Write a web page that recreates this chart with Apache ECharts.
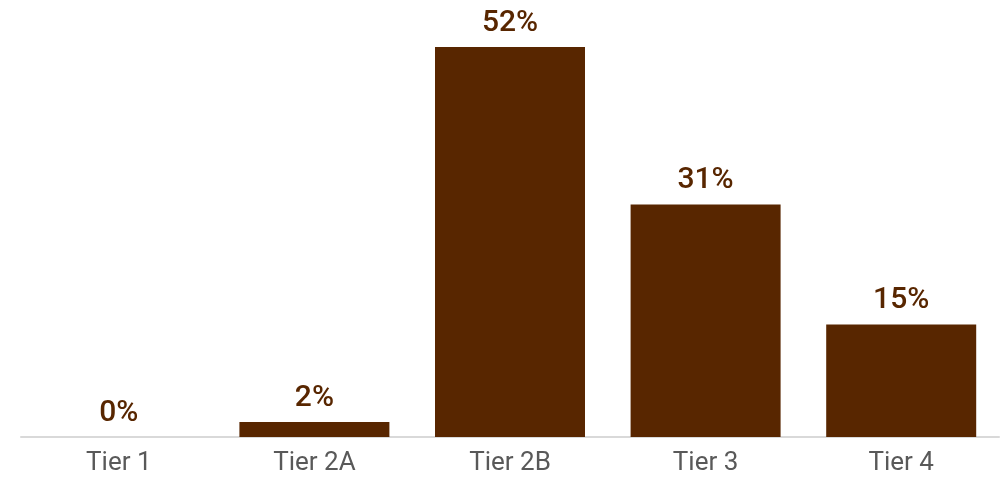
<!DOCTYPE html>
<html><head><meta charset="utf-8">
<script src="https://cdn.jsdelivr.net/npm/echarts@6/dist/echarts.min.js"></script>
<style>html,body{margin:0;padding:0;background:#fff}#c{width:1002px;height:478px}</style>
</head><body><div id="c"></div>
<script>
const categories = ["Tier 1", "Tier 2A", "Tier 2B", "Tier 3", "Tier 4"];
const values = [0, 2, 52, 31, 15];
const chart = echarts.init(document.getElementById('c'));
chart.setOption({
  animation: false,
  grid: { left: 21, right: 3, top: 47, bottom: 41 },
  xAxis: {
    type: 'category',
    data: categories,
    axisLine: { lineStyle: { color: '#d9d9d9', width: 2 } },
    axisTick: { show: false },
    axisLabel: { color: '#595959', fontSize: 26, fontFamily: 'Roboto', margin: 13 }
  },
  yAxis: { type: 'value', min: 0, max: 52, show: false, splitLine: { show: false } },
  series: [{
    type: 'bar',
    data: values,
    barWidth: 150,
    itemStyle: { color: '#582600' },
    label: {
      show: true, position: 'top', distance: 9,
      formatter: '{c}%', color: '#582600', fontSize: 30, fontWeight: 500, fontFamily: 'Roboto'
    }
  }]
});
</script></body></html>
